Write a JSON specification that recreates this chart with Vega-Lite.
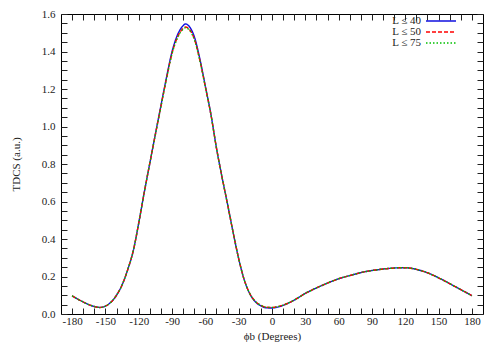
{
  "$schema": "https://vega.github.io/schema/vega-lite/v6.json",
  "autosize": "none",
  "width": 422,
  "height": 300,
  "padding": {"left": 61, "top": 14, "right": 17, "bottom": 36},
  "background": "white",
  "config": {
    "font": "Liberation Serif",
    "view": {"stroke": "black", "strokeWidth": 1},
    "axis": {"labelFont": "Liberation Serif", "titleFont": "Liberation Serif", "labelFontSize": 11, "titleFontSize": 11, "titleFontWeight": "normal", "labelColor": "#222", "titleColor": "#222", "tickColor": "#222", "tickWidth": 1, "domainColor": "black", "grid": false, "tickSize": -6}
  },
  "data": {"values": [
    {"phi": -180, "L": "L ≤ 40", "tdcs": 0.097}, {"phi": -180, "L": "L ≤ 50", "tdcs": 0.097}, {"phi": -180, "L": "L ≤ 75", "tdcs": 0.097},
    {"phi": -175, "L": "L ≤ 40", "tdcs": 0.080}, {"phi": -175, "L": "L ≤ 50", "tdcs": 0.080}, {"phi": -175, "L": "L ≤ 75", "tdcs": 0.080},
    {"phi": -170, "L": "L ≤ 40", "tdcs": 0.064}, {"phi": -170, "L": "L ≤ 50", "tdcs": 0.064}, {"phi": -170, "L": "L ≤ 75", "tdcs": 0.064},
    {"phi": -165, "L": "L ≤ 40", "tdcs": 0.050}, {"phi": -165, "L": "L ≤ 50", "tdcs": 0.050}, {"phi": -165, "L": "L ≤ 75", "tdcs": 0.050},
    {"phi": -160, "L": "L ≤ 40", "tdcs": 0.040}, {"phi": -160, "L": "L ≤ 50", "tdcs": 0.040}, {"phi": -160, "L": "L ≤ 75", "tdcs": 0.040},
    {"phi": -155, "L": "L ≤ 40", "tdcs": 0.035}, {"phi": -155, "L": "L ≤ 50", "tdcs": 0.035}, {"phi": -155, "L": "L ≤ 75", "tdcs": 0.035},
    {"phi": -150, "L": "L ≤ 40", "tdcs": 0.042}, {"phi": -150, "L": "L ≤ 50", "tdcs": 0.042}, {"phi": -150, "L": "L ≤ 75", "tdcs": 0.042},
    {"phi": -145, "L": "L ≤ 40", "tdcs": 0.063}, {"phi": -145, "L": "L ≤ 50", "tdcs": 0.063}, {"phi": -145, "L": "L ≤ 75", "tdcs": 0.063},
    {"phi": -140, "L": "L ≤ 40", "tdcs": 0.100}, {"phi": -140, "L": "L ≤ 50", "tdcs": 0.100}, {"phi": -140, "L": "L ≤ 75", "tdcs": 0.100},
    {"phi": -135, "L": "L ≤ 40", "tdcs": 0.155}, {"phi": -135, "L": "L ≤ 50", "tdcs": 0.155}, {"phi": -135, "L": "L ≤ 75", "tdcs": 0.155},
    {"phi": -130, "L": "L ≤ 40", "tdcs": 0.235}, {"phi": -130, "L": "L ≤ 50", "tdcs": 0.235}, {"phi": -130, "L": "L ≤ 75", "tdcs": 0.235},
    {"phi": -125, "L": "L ≤ 40", "tdcs": 0.335}, {"phi": -125, "L": "L ≤ 50", "tdcs": 0.335}, {"phi": -125, "L": "L ≤ 75", "tdcs": 0.335},
    {"phi": -120, "L": "L ≤ 40", "tdcs": 0.485}, {"phi": -120, "L": "L ≤ 50", "tdcs": 0.485}, {"phi": -120, "L": "L ≤ 75", "tdcs": 0.485},
    {"phi": -115, "L": "L ≤ 40", "tdcs": 0.650}, {"phi": -115, "L": "L ≤ 50", "tdcs": 0.650}, {"phi": -115, "L": "L ≤ 75", "tdcs": 0.650},
    {"phi": -110, "L": "L ≤ 40", "tdcs": 0.805}, {"phi": -110, "L": "L ≤ 50", "tdcs": 0.805}, {"phi": -110, "L": "L ≤ 75", "tdcs": 0.805},
    {"phi": -105, "L": "L ≤ 40", "tdcs": 0.960}, {"phi": -105, "L": "L ≤ 50", "tdcs": 0.958}, {"phi": -105, "L": "L ≤ 75", "tdcs": 0.957},
    {"phi": -100, "L": "L ≤ 40", "tdcs": 1.112}, {"phi": -100, "L": "L ≤ 50", "tdcs": 1.108}, {"phi": -100, "L": "L ≤ 75", "tdcs": 1.106},
    {"phi": -95, "L": "L ≤ 40", "tdcs": 1.262}, {"phi": -95, "L": "L ≤ 50", "tdcs": 1.256}, {"phi": -95, "L": "L ≤ 75", "tdcs": 1.254},
    {"phi": -90, "L": "L ≤ 40", "tdcs": 1.400}, {"phi": -90, "L": "L ≤ 50", "tdcs": 1.391}, {"phi": -90, "L": "L ≤ 75", "tdcs": 1.388},
    {"phi": -85, "L": "L ≤ 40", "tdcs": 1.490}, {"phi": -85, "L": "L ≤ 50", "tdcs": 1.478}, {"phi": -85, "L": "L ≤ 75", "tdcs": 1.474},
    {"phi": -80, "L": "L ≤ 40", "tdcs": 1.538}, {"phi": -80, "L": "L ≤ 50", "tdcs": 1.523}, {"phi": -80, "L": "L ≤ 75", "tdcs": 1.519},
    {"phi": -78, "L": "L ≤ 40", "tdcs": 1.547}, {"phi": -78, "L": "L ≤ 50", "tdcs": 1.531}, {"phi": -78, "L": "L ≤ 75", "tdcs": 1.527},
    {"phi": -75, "L": "L ≤ 40", "tdcs": 1.537}, {"phi": -75, "L": "L ≤ 50", "tdcs": 1.522}, {"phi": -75, "L": "L ≤ 75", "tdcs": 1.518},
    {"phi": -70, "L": "L ≤ 40", "tdcs": 1.480}, {"phi": -70, "L": "L ≤ 50", "tdcs": 1.468}, {"phi": -70, "L": "L ≤ 75", "tdcs": 1.465},
    {"phi": -65, "L": "L ≤ 40", "tdcs": 1.362}, {"phi": -65, "L": "L ≤ 50", "tdcs": 1.354}, {"phi": -65, "L": "L ≤ 75", "tdcs": 1.352},
    {"phi": -60, "L": "L ≤ 40", "tdcs": 1.215}, {"phi": -60, "L": "L ≤ 50", "tdcs": 1.211}, {"phi": -60, "L": "L ≤ 75", "tdcs": 1.210},
    {"phi": -55, "L": "L ≤ 40", "tdcs": 1.065}, {"phi": -55, "L": "L ≤ 50", "tdcs": 1.063}, {"phi": -55, "L": "L ≤ 75", "tdcs": 1.063},
    {"phi": -50, "L": "L ≤ 40", "tdcs": 0.885}, {"phi": -50, "L": "L ≤ 50", "tdcs": 0.885}, {"phi": -50, "L": "L ≤ 75", "tdcs": 0.885},
    {"phi": -45, "L": "L ≤ 40", "tdcs": 0.730}, {"phi": -45, "L": "L ≤ 50", "tdcs": 0.730}, {"phi": -45, "L": "L ≤ 75", "tdcs": 0.730},
    {"phi": -40, "L": "L ≤ 40", "tdcs": 0.585}, {"phi": -40, "L": "L ≤ 50", "tdcs": 0.585}, {"phi": -40, "L": "L ≤ 75", "tdcs": 0.585},
    {"phi": -35, "L": "L ≤ 40", "tdcs": 0.435}, {"phi": -35, "L": "L ≤ 50", "tdcs": 0.435}, {"phi": -35, "L": "L ≤ 75", "tdcs": 0.435},
    {"phi": -30, "L": "L ≤ 40", "tdcs": 0.295}, {"phi": -30, "L": "L ≤ 50", "tdcs": 0.295}, {"phi": -30, "L": "L ≤ 75", "tdcs": 0.295},
    {"phi": -25, "L": "L ≤ 40", "tdcs": 0.182}, {"phi": -25, "L": "L ≤ 50", "tdcs": 0.182}, {"phi": -25, "L": "L ≤ 75", "tdcs": 0.182},
    {"phi": -20, "L": "L ≤ 40", "tdcs": 0.108}, {"phi": -20, "L": "L ≤ 50", "tdcs": 0.109}, {"phi": -20, "L": "L ≤ 75", "tdcs": 0.109},
    {"phi": -15, "L": "L ≤ 40", "tdcs": 0.065}, {"phi": -15, "L": "L ≤ 50", "tdcs": 0.067}, {"phi": -15, "L": "L ≤ 75", "tdcs": 0.067},
    {"phi": -10, "L": "L ≤ 40", "tdcs": 0.043}, {"phi": -10, "L": "L ≤ 50", "tdcs": 0.046}, {"phi": -10, "L": "L ≤ 75", "tdcs": 0.046},
    {"phi": -5, "L": "L ≤ 40", "tdcs": 0.033}, {"phi": -5, "L": "L ≤ 50", "tdcs": 0.036}, {"phi": -5, "L": "L ≤ 75", "tdcs": 0.036},
    {"phi": 0, "L": "L ≤ 40", "tdcs": 0.032}, {"phi": 0, "L": "L ≤ 50", "tdcs": 0.035}, {"phi": 0, "L": "L ≤ 75", "tdcs": 0.035},
    {"phi": 5, "L": "L ≤ 40", "tdcs": 0.037}, {"phi": 5, "L": "L ≤ 50", "tdcs": 0.039}, {"phi": 5, "L": "L ≤ 75", "tdcs": 0.039},
    {"phi": 10, "L": "L ≤ 40", "tdcs": 0.046}, {"phi": 10, "L": "L ≤ 50", "tdcs": 0.047}, {"phi": 10, "L": "L ≤ 75", "tdcs": 0.047},
    {"phi": 15, "L": "L ≤ 40", "tdcs": 0.059}, {"phi": 15, "L": "L ≤ 50", "tdcs": 0.059}, {"phi": 15, "L": "L ≤ 75", "tdcs": 0.059},
    {"phi": 20, "L": "L ≤ 40", "tdcs": 0.074}, {"phi": 20, "L": "L ≤ 50", "tdcs": 0.074}, {"phi": 20, "L": "L ≤ 75", "tdcs": 0.074},
    {"phi": 25, "L": "L ≤ 40", "tdcs": 0.092}, {"phi": 25, "L": "L ≤ 50", "tdcs": 0.092}, {"phi": 25, "L": "L ≤ 75", "tdcs": 0.092},
    {"phi": 30, "L": "L ≤ 40", "tdcs": 0.110}, {"phi": 30, "L": "L ≤ 50", "tdcs": 0.110}, {"phi": 30, "L": "L ≤ 75", "tdcs": 0.110},
    {"phi": 35, "L": "L ≤ 40", "tdcs": 0.125}, {"phi": 35, "L": "L ≤ 50", "tdcs": 0.125}, {"phi": 35, "L": "L ≤ 75", "tdcs": 0.125},
    {"phi": 40, "L": "L ≤ 40", "tdcs": 0.139}, {"phi": 40, "L": "L ≤ 50", "tdcs": 0.139}, {"phi": 40, "L": "L ≤ 75", "tdcs": 0.139},
    {"phi": 45, "L": "L ≤ 40", "tdcs": 0.152}, {"phi": 45, "L": "L ≤ 50", "tdcs": 0.152}, {"phi": 45, "L": "L ≤ 75", "tdcs": 0.152},
    {"phi": 50, "L": "L ≤ 40", "tdcs": 0.165}, {"phi": 50, "L": "L ≤ 50", "tdcs": 0.165}, {"phi": 50, "L": "L ≤ 75", "tdcs": 0.165},
    {"phi": 55, "L": "L ≤ 40", "tdcs": 0.177}, {"phi": 55, "L": "L ≤ 50", "tdcs": 0.177}, {"phi": 55, "L": "L ≤ 75", "tdcs": 0.177},
    {"phi": 60, "L": "L ≤ 40", "tdcs": 0.188}, {"phi": 60, "L": "L ≤ 50", "tdcs": 0.188}, {"phi": 60, "L": "L ≤ 75", "tdcs": 0.188},
    {"phi": 65, "L": "L ≤ 40", "tdcs": 0.197}, {"phi": 65, "L": "L ≤ 50", "tdcs": 0.197}, {"phi": 65, "L": "L ≤ 75", "tdcs": 0.197},
    {"phi": 70, "L": "L ≤ 40", "tdcs": 0.205}, {"phi": 70, "L": "L ≤ 50", "tdcs": 0.205}, {"phi": 70, "L": "L ≤ 75", "tdcs": 0.205},
    {"phi": 75, "L": "L ≤ 40", "tdcs": 0.213}, {"phi": 75, "L": "L ≤ 50", "tdcs": 0.213}, {"phi": 75, "L": "L ≤ 75", "tdcs": 0.213},
    {"phi": 80, "L": "L ≤ 40", "tdcs": 0.221}, {"phi": 80, "L": "L ≤ 50", "tdcs": 0.221}, {"phi": 80, "L": "L ≤ 75", "tdcs": 0.221},
    {"phi": 85, "L": "L ≤ 40", "tdcs": 0.227}, {"phi": 85, "L": "L ≤ 50", "tdcs": 0.227}, {"phi": 85, "L": "L ≤ 75", "tdcs": 0.227},
    {"phi": 90, "L": "L ≤ 40", "tdcs": 0.232}, {"phi": 90, "L": "L ≤ 50", "tdcs": 0.232}, {"phi": 90, "L": "L ≤ 75", "tdcs": 0.232},
    {"phi": 95, "L": "L ≤ 40", "tdcs": 0.236}, {"phi": 95, "L": "L ≤ 50", "tdcs": 0.236}, {"phi": 95, "L": "L ≤ 75", "tdcs": 0.236},
    {"phi": 100, "L": "L ≤ 40", "tdcs": 0.240}, {"phi": 100, "L": "L ≤ 50", "tdcs": 0.240}, {"phi": 100, "L": "L ≤ 75", "tdcs": 0.240},
    {"phi": 105, "L": "L ≤ 40", "tdcs": 0.243}, {"phi": 105, "L": "L ≤ 50", "tdcs": 0.243}, {"phi": 105, "L": "L ≤ 75", "tdcs": 0.243},
    {"phi": 110, "L": "L ≤ 40", "tdcs": 0.245}, {"phi": 110, "L": "L ≤ 50", "tdcs": 0.245}, {"phi": 110, "L": "L ≤ 75", "tdcs": 0.245},
    {"phi": 115, "L": "L ≤ 40", "tdcs": 0.247}, {"phi": 115, "L": "L ≤ 50", "tdcs": 0.247}, {"phi": 115, "L": "L ≤ 75", "tdcs": 0.247},
    {"phi": 120, "L": "L ≤ 40", "tdcs": 0.247}, {"phi": 120, "L": "L ≤ 50", "tdcs": 0.247}, {"phi": 120, "L": "L ≤ 75", "tdcs": 0.247},
    {"phi": 125, "L": "L ≤ 40", "tdcs": 0.244}, {"phi": 125, "L": "L ≤ 50", "tdcs": 0.244}, {"phi": 125, "L": "L ≤ 75", "tdcs": 0.244},
    {"phi": 130, "L": "L ≤ 40", "tdcs": 0.238}, {"phi": 130, "L": "L ≤ 50", "tdcs": 0.238}, {"phi": 130, "L": "L ≤ 75", "tdcs": 0.238},
    {"phi": 135, "L": "L ≤ 40", "tdcs": 0.230}, {"phi": 135, "L": "L ≤ 50", "tdcs": 0.230}, {"phi": 135, "L": "L ≤ 75", "tdcs": 0.230},
    {"phi": 140, "L": "L ≤ 40", "tdcs": 0.220}, {"phi": 140, "L": "L ≤ 50", "tdcs": 0.220}, {"phi": 140, "L": "L ≤ 75", "tdcs": 0.220},
    {"phi": 145, "L": "L ≤ 40", "tdcs": 0.207}, {"phi": 145, "L": "L ≤ 50", "tdcs": 0.207}, {"phi": 145, "L": "L ≤ 75", "tdcs": 0.207},
    {"phi": 150, "L": "L ≤ 40", "tdcs": 0.193}, {"phi": 150, "L": "L ≤ 50", "tdcs": 0.193}, {"phi": 150, "L": "L ≤ 75", "tdcs": 0.193},
    {"phi": 155, "L": "L ≤ 40", "tdcs": 0.178}, {"phi": 155, "L": "L ≤ 50", "tdcs": 0.178}, {"phi": 155, "L": "L ≤ 75", "tdcs": 0.178},
    {"phi": 160, "L": "L ≤ 40", "tdcs": 0.162}, {"phi": 160, "L": "L ≤ 50", "tdcs": 0.162}, {"phi": 160, "L": "L ≤ 75", "tdcs": 0.162},
    {"phi": 165, "L": "L ≤ 40", "tdcs": 0.146}, {"phi": 165, "L": "L ≤ 50", "tdcs": 0.146}, {"phi": 165, "L": "L ≤ 75", "tdcs": 0.146},
    {"phi": 170, "L": "L ≤ 40", "tdcs": 0.130}, {"phi": 170, "L": "L ≤ 50", "tdcs": 0.130}, {"phi": 170, "L": "L ≤ 75", "tdcs": 0.130},
    {"phi": 175, "L": "L ≤ 40", "tdcs": 0.114}, {"phi": 175, "L": "L ≤ 50", "tdcs": 0.114}, {"phi": 175, "L": "L ≤ 75", "tdcs": 0.114},
    {"phi": 180, "L": "L ≤ 40", "tdcs": 0.098}, {"phi": 180, "L": "L ≤ 50", "tdcs": 0.098}, {"phi": 180, "L": "L ≤ 75", "tdcs": 0.098}
  ]},
  "layer": [
    {
      "mark": {"type": "line", "interpolate": "monotone", "strokeWidth": 1.4},
      "encoding": {
        "x": {"field": "phi", "type": "quantitative", "scale": {"domain": [-190, 190], "nice": false, "zero": false},
          "axis": {"orient": "bottom", "title": "ϕb (Degrees)", "values": [-180,-170,-160,-150,-140,-130,-120,-110,-100,-90,-80,-70,-60,-50,-40,-30,-20,-10,0,10,20,30,40,50,60,70,80,90,100,110,120,130,140,150,160,170,180],
            "labelExpr": "datum.value % 30 === 0 ? datum.value : ''",
            "encode": {"ticks": {"update": {"y2": {"signal": "datum.value % 30 === 0 ? -6 : -3"}}}},
            "labelPadding": 7, "domain": false, "titlePadding": 4, "labelFlush": false}},
        "y": {"field": "tdcs", "type": "quantitative", "scale": {"domain": [0, 1.6], "nice": false},
          "axis": {"orient": "left", "title": "TDCS (a.u.)", "values": [0,0.05,0.1,0.15,0.2,0.25,0.3,0.35,0.4,0.45,0.5,0.55,0.6,0.65,0.7,0.75,0.8,0.85,0.9,0.95,1.0,1.05,1.1,1.15,1.2,1.25,1.3,1.35,1.4,1.45,1.5,1.55,1.6],
            "labelExpr": "abs(datum.value*10 - round(datum.value*10)) < 0.01 && round(datum.value*10) % 2 === 0 ? format(datum.value, '.1f') : ''",
            "encode": {"ticks": {"update": {"x2": {"signal": "abs(datum.value*10 - round(datum.value*10)) < 0.01 && round(datum.value*10) % 2 === 0 ? 6 : 3"}}}},
            "labelPadding": 12, "domain": false, "titlePadding": 20}},
        "color": {"field": "L", "type": "nominal",
          "scale": {"domain": ["L ≤ 40", "L ≤ 50", "L ≤ 75"], "range": ["#1010e0", "#ff0000", "#00c000"]},
          "legend": {"orient": "none", "legendX": 374, "legendY": 1, "title": null, "symbolType": "M-3,0L3,0", "symbolSize": 100, "symbolStrokeWidth": 1.5, "labelFontSize": 11, "labelColor": "#222", "labelAlign": "right", "labelOffset": -26, "rowPadding": 0, "padding": 0}},
        "strokeDash": {"field": "L", "type": "nominal",
          "scale": {"domain": ["L ≤ 40", "L ≤ 50", "L ≤ 75"], "range": [[1, 0], [4, 2], [1.5, 2]]},
          "legend": null}
      }
    },
    {
      "mark": {"type": "line", "opacity": 0},
      "encoding": {
        "x": {"field": "phi", "type": "quantitative",
          "axis": {"orient": "top", "title": null, "labels": false, "domain": false, "values": [-180,-170,-160,-150,-140,-130,-120,-110,-100,-90,-80,-70,-60,-50,-40,-30,-20,-10,0,10,20,30,40,50,60,70,80,90,100,110,120,130,140,150,160,170,180],
            "encode": {"ticks": {"update": {"y2": {"signal": "datum.value % 30 === 0 ? 6 : 3"}}}}}},
        "y": {"field": "tdcs", "type": "quantitative",
          "axis": {"orient": "right", "title": null, "labels": false, "domain": false, "values": [0,0.05,0.1,0.15,0.2,0.25,0.3,0.35,0.4,0.45,0.5,0.55,0.6,0.65,0.7,0.75,0.8,0.85,0.9,0.95,1.0,1.05,1.1,1.15,1.2,1.25,1.3,1.35,1.4,1.45,1.5,1.55,1.6],
            "encode": {"ticks": {"update": {"x2": {"signal": "abs(datum.value*10 - round(datum.value*10)) < 0.01 && round(datum.value*10) % 2 === 0 ? -6 : -3"}}}}}}
      }
    }
  ]
}
